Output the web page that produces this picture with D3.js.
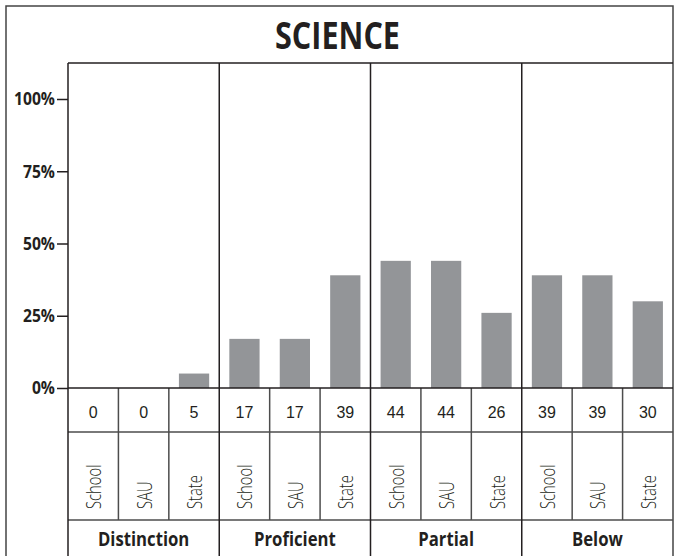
<!DOCTYPE html>
<html>
<head>
<meta charset="utf-8">
<script src="https://cdn.jsdelivr.net/npm/d3@7"></script>
<style>
  body { margin: 0; background: #fff; }
  svg { display: block; }
</style>
</head>
<body>
<svg id="chart"></svg>
<script>
// data
const categories = ["Distinction", "Proficient", "Partial", "Below"];
const groups = ["School", "SAU", "State"];
const distinction = [0, 0, 5];
const proficient = [17, 17, 39];
const partial = [44, 44, 26];
const below = [39, 39, 30];
const yTicks = [0, 25, 50, 75, 100];
const title = "SCIENCE";

const series = [distinction, proficient, partial, below];

const W = 675, H = 556;
const svg = d3.select("#chart").attr("width", W).attr("height", H);

// layout
const plot = {left: 68, right: 673, top: 63, bottom: 388};
const rowVal = 432, rowLab = 520, bottom = 556;
const lineCol = "#231f20", gridCol = "#4d4d4d", barCol = "#939598";

const x = d3.scaleBand().domain(categories).range([plot.left, plot.right]);
const xi = d3.scaleBand().domain(groups).range([0, x.bandwidth()])
  .paddingInner(0.4).paddingOuter(0.2);
const xcell = d3.scaleBand().domain(groups).range([0, x.bandwidth()]);
// 100% sits at y=99
const y = d3.scaleLinear().domain([0, 100]).range([plot.bottom, 99]);

// outer frame (left, top, right)
svg.append("path")
  .attr("d", `M6,${H} V6 H${plot.right} V${H}`)
  .attr("fill", "none").attr("stroke", "#444").attr("stroke-width", 1.5);

// title
svg.append("text")
  .attr("x", 337.5).attr("y", 48.5)
  .attr("text-anchor", "middle")
  .attr("font-family", "Open Sans, sans-serif")
  .attr("font-weight", "bold").attr("font-size", 38)
  .attr("textLength", 125).attr("lengthAdjust", "spacingAndGlyphs")
  .attr("fill", lineCol)
  .text(title);

// bars
const cat = svg.selectAll("g.cat")
  .data(categories.map((c, i) => ({c, vals: series[i]})))
  .enter().append("g")
  .attr("class", "cat")
  .attr("transform", d => `translate(${x(d.c)},0)`);

cat.selectAll("rect")
  .data(d => d.vals.map((v, j) => ({g: groups[j], v})))
  .enter().append("rect")
  .attr("x", d => xi(d.g))
  .attr("width", xi.bandwidth())
  .attr("y", d => y(d.v))
  .attr("height", d => y(0) - y(d.v))
  .attr("fill", barCol);

// values row
cat.selectAll("text.val")
  .data(d => d.vals.map((v, j) => ({g: groups[j], v})))
  .enter().append("text")
  .attr("class", "val")
  .attr("x", d => xcell(d.g) + xcell.bandwidth() / 2)
  .attr("y", 417.5)
  .attr("text-anchor", "middle")
  .attr("font-family", "Liberation Sans, Arial, sans-serif")
  .attr("font-size", 16)
  .attr("fill", lineCol)
  .text(d => d.v);

// rotated group labels
cat.selectAll("text.grp")
  .data(groups)
  .enter().append("text")
  .attr("class", "grp")
  .attr("transform", g => `translate(${xcell(g) + xcell.bandwidth() / 2 + 8},${rowLab - 11}) rotate(-90) scale(0.74,1)`)
  .attr("font-family", "Open Sans, sans-serif")
  .attr("font-weight", 300)
  .attr("font-size", 20)
  .attr("fill", lineCol)
  .text(g => g);

// category labels
svg.selectAll("text.catlab")
  .data(categories)
  .enter().append("text")
  .attr("class", "catlab")
  .attr("transform", c => `translate(${x(c) + x.bandwidth() / 2},546) scale(0.88,1)`)
  .attr("text-anchor", "middle")
  .attr("font-family", "Open Sans, sans-serif")
  .attr("font-weight", "bold").attr("font-size", 19)
  .attr("fill", lineCol)
  .text(c => c);

// table cell dividers
const subs = [];
categories.forEach(c => groups.slice(1).forEach(g => subs.push(x(c) + xcell(g))));
svg.selectAll("line.sub")
  .data(subs)
  .enter().append("line")
  .attr("x1", d => d).attr("x2", d => d)
  .attr("y1", plot.bottom).attr("y2", rowLab)
  .attr("stroke", gridCol).attr("stroke-width", 1.5);

[rowVal, rowLab].forEach(yy => {
  svg.append("line")
    .attr("x1", plot.left).attr("x2", plot.right)
    .attr("y1", yy).attr("y2", yy)
    .attr("stroke", gridCol).attr("stroke-width", 1.5);
});

// category dividers and plot frame
svg.selectAll("line.catdiv")
  .data(categories.slice(1).map(c => x(c)).concat([plot.left]))
  .enter().append("line")
  .attr("x1", d => d).attr("x2", d => d)
  .attr("y1", plot.top).attr("y2", bottom)
  .attr("stroke", lineCol).attr("stroke-width", 1.5);

svg.append("line")
  .attr("x1", plot.left).attr("x2", plot.right)
  .attr("y1", plot.top).attr("y2", plot.top)
  .attr("stroke", lineCol).attr("stroke-width", 1.5);

// y axis
const yAxis = svg.append("g")
  .attr("transform", `translate(${plot.left},0)`)
  .call(d3.axisLeft(y).tickValues(yTicks).tickSize(11).tickFormat(d => d + "%"));
yAxis.select(".domain").remove();
yAxis.selectAll("line").attr("stroke", lineCol).attr("stroke-width", 1.5);
yAxis.selectAll("text")
  .attr("x", -15)
  .attr("transform", "scale(0.87,1)")
  .attr("font-family", "Open Sans, sans-serif")
  .attr("font-weight", "bold").attr("font-size", 18)
  .attr("fill", lineCol);

// zero baseline
svg.append("line")
  .attr("x1", plot.left).attr("x2", plot.right)
  .attr("y1", plot.bottom).attr("y2", plot.bottom)
  .attr("stroke", lineCol).attr("stroke-width", 1.5);
</script>
</body>
</html>
